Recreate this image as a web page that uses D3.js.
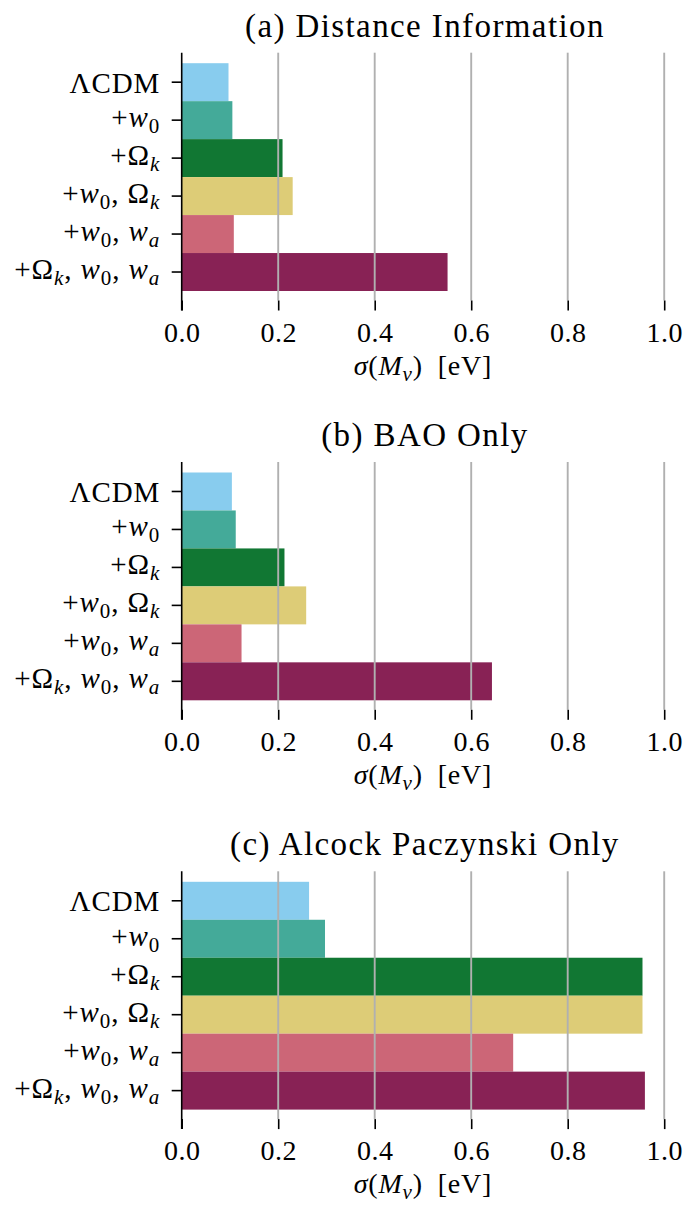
<!DOCTYPE html>
<html>
<head>
<meta charset="utf-8">
<script src="https://cdn.jsdelivr.net/npm/d3@7"></script>
<style>
  html, body { margin: 0; padding: 0; background: #fff; }
  svg { display: block; }
  text { font-family: "Liberation Serif", "DejaVu Serif", serif; fill: #000; }
</style>
</head>
<body>
<svg id="chart" width="686" height="1205"></svg>
<script>
// Model extensions (rows of every panel)
const categories = ["ΛCDM", "+w0", "+Ωk", "+w0,Ωk", "+w0,wa", "+Ωk,w0,wa"];

// Forecast neutrino-mass uncertainty sigma(M_nu) in eV, one array per probe
const distanceValues = [0.097, 0.105, 0.209, 0.230, 0.108, 0.551];
const baoValues      = [0.104, 0.112, 0.213, 0.258, 0.124, 0.643];
const apValues       = [0.264, 0.297, 0.955, 0.955, 0.687, 0.960];

const panelTitles = ["(a) Distance Information", "(b) BAO Only", "(c) Alcock Paczynski Only"];
const xTicks = [0.0, 0.2, 0.4, 0.6, 0.8, 1.0];
const barColors = ["#88CCEE", "#44AA99", "#117733", "#DDCC77", "#CC6677", "#882255"];

// Label fragments: r = upright, i = italic, sub = upright subscript, isub = italic subscript
const labelTokens = {
  "ΛCDM":       [["ΛCDM", "r"]],
  "+w0":        [["+", "r"], ["w", "i"], ["0", "sub"]],
  "+Ωk":        [["+", "r"], ["Ω", "r"], ["k", "isub"]],
  "+w0,Ωk":     [["+", "r"], ["w", "i"], ["0", "sub"], [", ", "r"], ["Ω", "r"], ["k", "isub"]],
  "+w0,wa":     [["+", "r"], ["w", "i"], ["0", "sub"], [", ", "r"], ["w", "i"], ["a", "isub"]],
  "+Ωk,w0,wa":  [["+", "r"], ["Ω", "r"], ["k", "isub"], [", ", "r"], ["w", "i"], ["0", "sub"], [", ", "r"], ["w", "i"], ["a", "isub"]]
};
const xLabelTokens = [["σ", "i"], ["(", "r"], ["M", "i"], ["ν", "isub"], [")\u2002[eV]", "r"]];

const panels = [
  { title: panelTitles[0], values: distanceValues },
  { title: panelTitles[1], values: baoValues },
  { title: panelTitles[2], values: apValues }
];

const svg = d3.select("#chart");
const SERIF = "Liberation Serif";

// writes a list of fragments into a text element
function writeTokens(textSel, tokens, fs, subFs, subShift, spacing) {
  let down = 0;
  tokens.forEach(([str, kind]) => {
    const isSub = kind === "sub" || kind === "isub";
    const target = isSub ? subShift : 0;
    textSel.append("tspan")
      .text(str)
      .attr("dy", target - down)
      .style("font-family", SERIF)
      .style("font-size", (isSub ? subFs : fs) + "px")
      .style("letter-spacing", spacing + "px")
      .style("font-style", (kind === "i" || kind === "isub") ? "italic" : "normal");
    down = target;
  });
}

const x = d3.scaleLinear().domain([0, 1]).range([181.7, 664.2]);
const panelStep = 409.3;
const firstTop = 52.7;

panels.forEach((p, i) => {
  const top = firstTop + i * panelStep;
  const bottom = top + 247.8;          // end of plotting area
  const g = svg.append("g");

  const y = d3.scaleBand()
    .domain(categories)
    .range([top + 10.5, bottom - 9.5])
    .paddingInner(0)
    .paddingOuter(0);

  // bars
  g.selectAll("rect.bar")
    .data(categories.map((c, j) => ({ c, v: p.values[j], color: barColors[j] })))
    .join("rect")
    .attr("class", "bar")
    .attr("x", x(0))
    .attr("y", d => y(d.c))
    .attr("width", d => x(d.v) - x(0))
    .attr("height", y.bandwidth())
    .attr("fill", d => d.color);

  // vertical grid lines, drawn above the bars
  g.selectAll("line.grid")
    .data(xTicks.filter(t => t > 0))
    .join("line")
    .attr("class", "grid")
    .attr("x1", d => x(d)).attr("x2", d => x(d))
    .attr("y1", top).attr("y2", bottom)
    .attr("stroke", "#b0b0b0")
    .attr("stroke-width", 1.9);

  // bottom axis: ticks and labels, no spine
  const xAxis = d3.axisBottom(x)
    .tickValues(xTicks)
    .tickFormat(d3.format(".1f"))
    .tickSize(10)
    .tickSizeOuter(0)
    .tickPadding(0);
  const ax = g.append("g").attr("transform", `translate(0,${bottom})`).call(xAxis);
  ax.select(".domain").remove();
  ax.selectAll(".tick line").attr("stroke", "#000").attr("stroke-width", 1.6);
  ax.selectAll(".tick text")
    .attr("y", 0).attr("dy", 0)
    .attr("transform", "translate(0,41)")
    .style("font-size", "28px")
    .style("letter-spacing", "0.5px")
    .style("font-family", SERIF);

  // x-axis title
  const xl = g.append("text")
    .attr("x", (x(0) + x(1)) / 2)
    .attr("y", top + 322)
    .attr("text-anchor", "middle");
  writeTokens(xl, xLabelTokens, 28, 21, 6, 0.8);

  // left axis: ticks only, labels are written separately
  const yAxis = d3.axisLeft(y).tickSize(10).tickSizeOuter(0).tickFormat("");
  const ay = g.append("g").attr("transform", `translate(${x(0)},0)`).call(yAxis);
  ay.select(".domain").remove();
  ay.selectAll(".tick line").attr("stroke", "#000").attr("stroke-width", 1.6);

  categories.forEach(c => {
    const toks = labelTokens[c];
    const hasSub = toks.some(t => t[1] === "sub" || t[1] === "isub");
    const t = g.append("text")
      .attr("x", x(0) - 21.5)
      .attr("y", y(c) + y.bandwidth() / 2 + (hasSub ? 7 : 10.5))
      .attr("text-anchor", "end");
    writeTokens(t, toks, 29, 21, 6, 0.9);
  });

  // left spine, extended to the offset tick row
  g.append("line")
    .attr("x1", x(0)).attr("x2", x(0))
    .attr("y1", top).attr("y2", bottom + 10)
    .attr("stroke", "#000").attr("stroke-width", 1.6);

  // panel title
  g.append("text")
    .attr("x", (x(0) + x(1)) / 2 + 2)
    .attr("y", top - 16)
    .attr("text-anchor", "middle")
    .style("font-family", SERIF)
    .style("font-size", "33px")
    .style("letter-spacing", "1.4px")
    .text(p.title);
});
</script>
</body>
</html>
